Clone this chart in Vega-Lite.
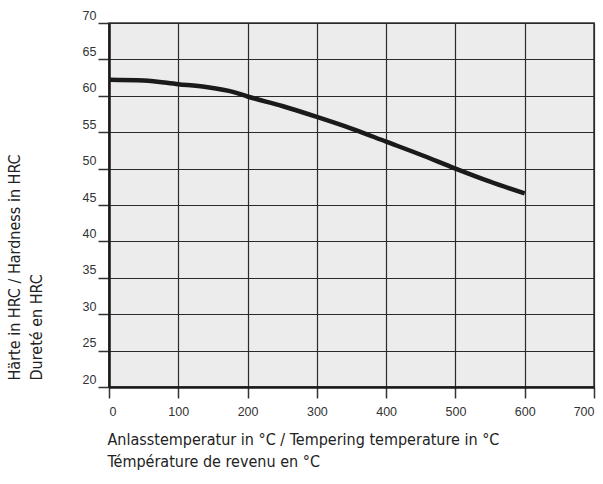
{
  "$schema": "https://vega.github.io/schema/vega-lite/v6.json",
  "autosize": "none",
  "width": 485,
  "height": 364,
  "padding": {"left": 109, "top": 23, "right": 9, "bottom": 97},
  "background": "white",
  "config": {
    "view": {"fill": "#ececec", "stroke": "#333333", "strokeWidth": 1.5},
    "font": "Liberation Sans, Arial, sans-serif"
  },
  "data": {
    "values": [
      {"temp": 0, "hrc": 62.2},
      {"temp": 50, "hrc": 62.1},
      {"temp": 100, "hrc": 61.6},
      {"temp": 140, "hrc": 61.2},
      {"temp": 180, "hrc": 60.5},
      {"temp": 200, "hrc": 59.9},
      {"temp": 250, "hrc": 58.6},
      {"temp": 300, "hrc": 57.1},
      {"temp": 350, "hrc": 55.5},
      {"temp": 400, "hrc": 53.7},
      {"temp": 450, "hrc": 51.9},
      {"temp": 500, "hrc": 50.0},
      {"temp": 550, "hrc": 48.2},
      {"temp": 600, "hrc": 46.6}
    ]
  },
  "mark": {"type": "line", "color": "#1a1a1a", "strokeWidth": 4.5, "interpolate": "monotone", "strokeCap": "butt"},
  "encoding": {
    "x": {
      "field": "temp", "type": "quantitative",
      "scale": {"domain": [0, 700], "nice": false, "zero": false},
      "axis": {
        "values": [0, 100, 200, 300, 400, 500, 600, 700],
        "title": ["Anlasstemperatur in °C / Tempering temperature in °C", "Témpérature de revenu en °C"],
        "titleFont": "DejaVu Sans Condensed, Liberation Sans Narrow, sans-serif",
        "titleFontWeight": "normal",
        "titleFontSize": 16,
        "titleColor": "#222222",
        "titleAnchor": "start",
        "titleAlign": "left",
        "titleBaseline": "top",
        "titleX": -2,
        "titleY": 44,
        "titleLineHeight": 22,
        "domainColor": "#1a1a1a",
        "domainWidth": 2.5,
        "tickColor": "#333333",
        "tickWidth": 1.5,
        "tickSize": 11,
        "labelFontSize": 12.5,
        "labelColor": "#333333",
        "labelPadding": 7,
        "grid": true,
        "gridColor": "#2a2a2a",
        "gridWidth": 1.2,
        "gridOpacity": 1
      }
    },
    "y": {
      "field": "hrc", "type": "quantitative",
      "scale": {"domain": [20, 70], "nice": false, "zero": false},
      "axis": {
        "values": [20, 25, 30, 35, 40, 45, 50, 55, 60, 65, 70],
        "title": ["Härte in HRC / Hardness in HRC", "Dureté en HRC"],
        "titleFont": "DejaVu Sans Condensed, Liberation Sans Narrow, sans-serif",
        "titleFontWeight": "normal",
        "titleFontSize": 16,
        "titleColor": "#222222",
        "titleAnchor": "start",
        "titleBaseline": "top",
        "titleX": -103,
        "titleY": 357,
        "titleLineHeight": 22,
        "domainColor": "#1a1a1a",
        "domainWidth": 2.5,
        "tickColor": "#333333",
        "tickWidth": 1.5,
        "tickSize": 11,
        "labelFontSize": 12.5,
        "labelColor": "#333333",
        "labelPadding": 2,
        "labelBaseline": "bottom",
        "labelOffset": -1,
        "grid": true,
        "gridColor": "#2a2a2a",
        "gridWidth": 1.2,
        "gridOpacity": 1
      }
    }
  }
}
